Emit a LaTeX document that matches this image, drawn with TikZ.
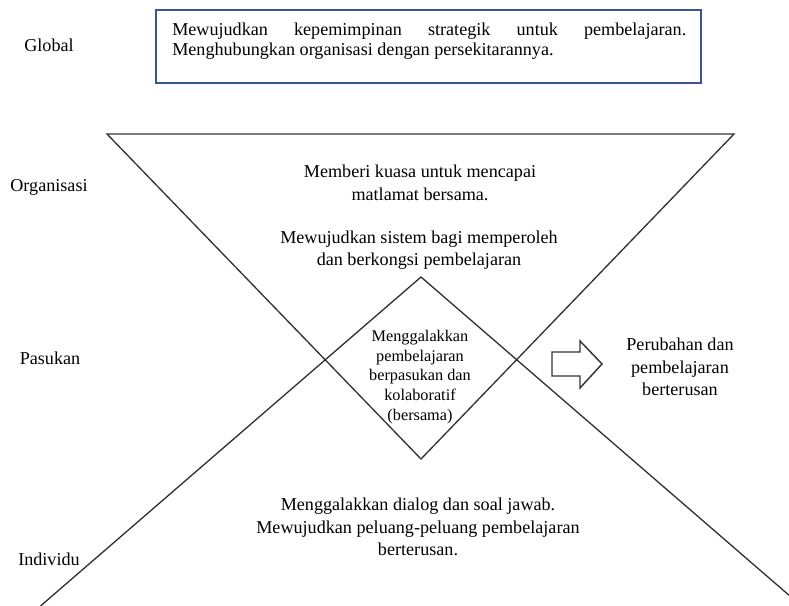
\documentclass[tikz,border=0pt]{standalone}
\usepackage{fontspec}
\setmainfont{Liberation Serif}
\definecolor{boxblue}{RGB}{62,82,150}
\tikzset{
  lbl/.style={font=\fontsize{13.6}{17}\selectfont, align=center},
  small/.style={font=\fontsize{12.2}{14.8}\selectfont, align=center},
  edge/.style={draw=black!80, line width=1pt},
}
\begin{document}
\begin{tikzpicture}[x=0.75pt,y=-0.75pt]
    \useasboundingbox (0,0) rectangle (789,606);
    % levels on the left
    \node[lbl] (global) at (49,45) {Global};
    \node[lbl] (organisasi) at (49,187) {Organisasi};
    \node[lbl] (pasukan) at (50,358) {Pasukan};
    \node[lbl] (individu) at (49,559) {Individu};
    % global box
    \draw[boxblue, line width=1.1pt] (156,10) rectangle (701,83);
    \node[anchor=north west, inner sep=0, align=left, font=\fontsize{13.6}{15}\selectfont] (topbox) at (172,23)
        {\makebox[385.5pt][s]{Mewujudkan kepemimpinan strategik untuk pembelajaran.}\\
         Menghubungkan organisasi dengan persekitarannya.};
    % the two triangles
    \draw[edge] (107,134) -- (734,134) -- (421,459) -- cycle;
    \draw[edge] (40.5,606) -- (421,277) -- (789,595.2);
    % texts
    \node[lbl] (kuasa) at (420,183) {Memberi kuasa untuk mencapai\\matlamat bersama.};
    \node[lbl] (sistem) at (419,250) {Mewujudkan sistem bagi memperoleh\\dan berkongsi pembelajaran};
    \node[small] (kolab) at (420,377) {Menggalakkan\\pembelajaran\\berpasukan dan\\kolaboratif\\(bersama)};
    \node[lbl] (dialog) at (418,527) {Menggalakkan dialog dan soal jawab.\\Mewujudkan peluang-peluang pembelajaran\\berterusan.};
    \node[lbl] (perubahan) at (680,367) {Perubahan dan\\pembelajaran\\berterusan};
    % block arrow
    \draw[edge, line width=1.1pt] (552,352) -- (580,352) -- (580,341) -- (602,364)
        -- (580,388) -- (580,376) -- (552,376) -- cycle;
\end{tikzpicture}
\end{document}
